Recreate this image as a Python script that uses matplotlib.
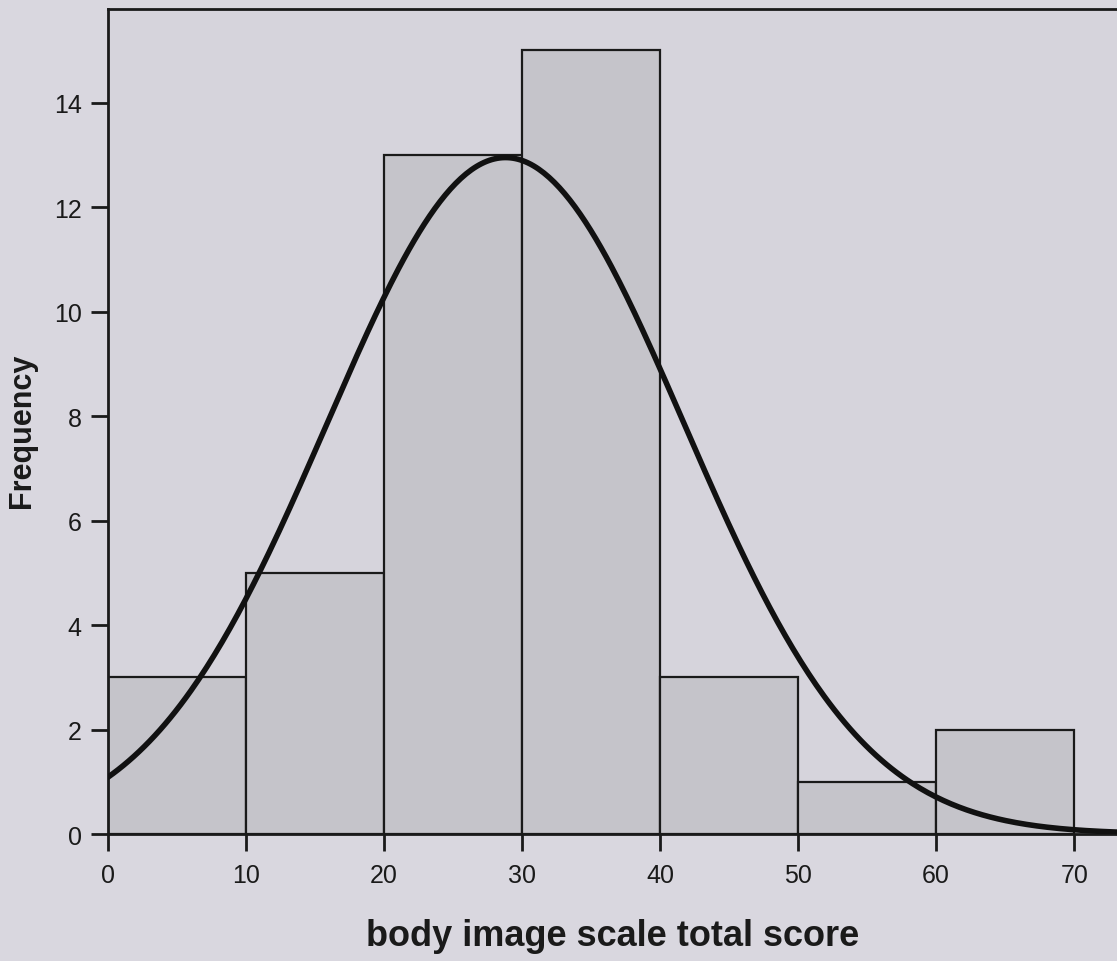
import numpy as np
import matplotlib
matplotlib.use('Agg')
import matplotlib.pyplot as plt

plt.rcParams['font.family'] = ['Liberation Sans', 'DejaVu Sans']

# histogram bins and counts
bin_edges = [0, 10, 20, 30, 40, 50, 60, 70]
counts = [3, 5, 13, 15, 3, 1, 2]

# normal curve parameters
n_total = 42
mean = 28.8
sd = 12.94
bin_width = 10

fig = plt.figure(figsize=(11.17, 9.62), dpi=100)
fig.patch.set_facecolor('#d9d7df')
ax = fig.add_axes([0.0967, 0.132, 0.9033, 0.858])
ax.set_facecolor('#d6d4dc')

lefts = bin_edges[:-1]
ax.bar(lefts, counts, width=bin_width, align='edge', color='#c5c4ca',
       edgecolor='#1a1a1a', linewidth=1.6, zorder=2)

xs = np.linspace(0, 75, 400)
ys = n_total * bin_width / (sd * np.sqrt(2 * np.pi)) * np.exp(-(xs - mean) ** 2 / (2 * sd ** 2))
ax.plot(xs, ys, color='#111111', linewidth=4, zorder=3, solid_capstyle='round')

ax.set_xlim(0, 73.1)
ax.set_ylim(0, 15.8)
ax.set_xticks(range(0, 80, 10))
ax.set_yticks(range(0, 16, 2))
ax.tick_params(axis='both', direction='out', length=12, width=2, labelsize=18,
               colors='#1a1a1a')
ax.tick_params(axis='x', pad=9)
ax.tick_params(axis='y', pad=7)
for s in ['left', 'bottom', 'top']:
    ax.spines[s].set_linewidth(2)
    ax.spines[s].set_color('#1a1a1a')
ax.spines['right'].set_visible(False)

ax.set_xlabel('body image scale total score', fontsize=26, fontweight='bold',
              labelpad=22, color='#1a1a1a')
ax.set_ylabel('Frequency', fontsize=22, fontweight='bold', color='#1a1a1a',
              va='center')
ax.yaxis.set_label_coords(-0.085, 0.49)

fig.savefig('out.png', dpi=100, facecolor=fig.get_facecolor())
